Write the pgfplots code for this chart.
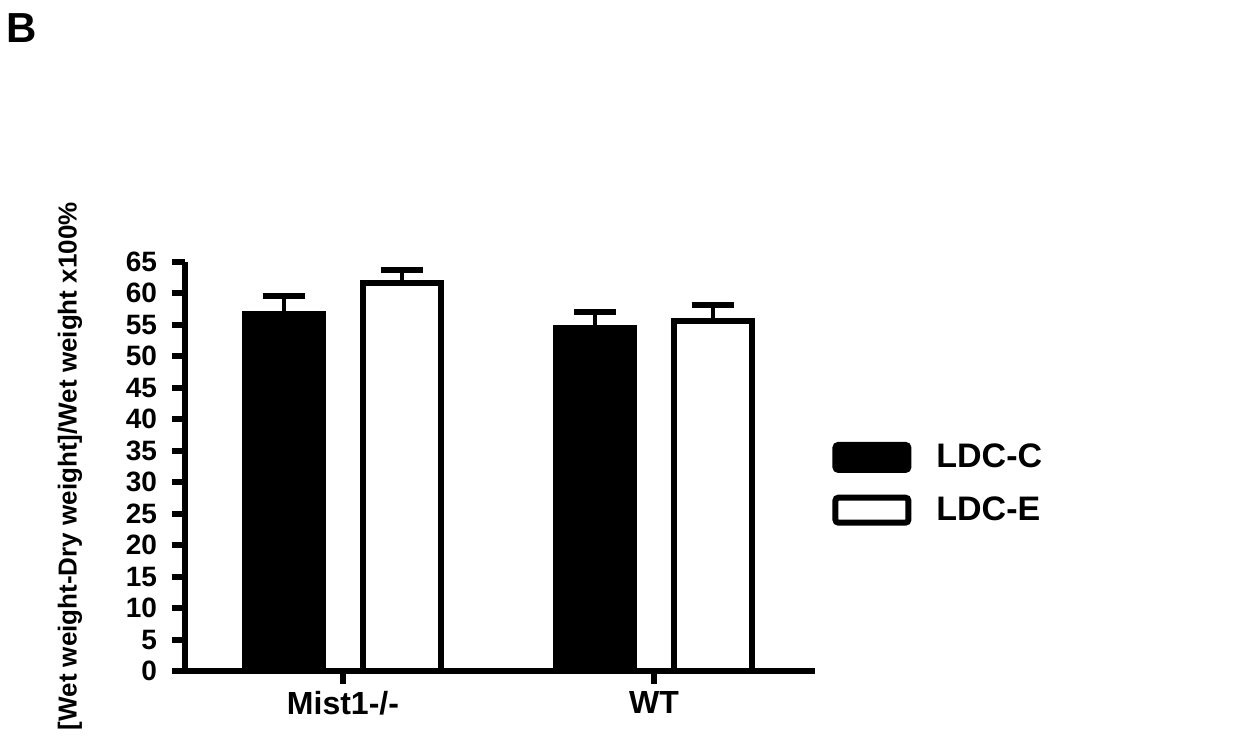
\documentclass[border=0pt]{standalone}
\usepackage{pgfplots}
\pgfplotsset{compat=1.18}
\usepackage{pgfplotstable}
\usepackage{fontspec}
\setmainfont{Liberation Sans}

\pgfplotstableread{
x y e
-0.189 56.67 2.85
0.811 54.44 2.62
}\ldcc
\pgfplotstableread{
x y e
0.189 61.59 2.14
1.189 55.56 2.54
}\ldce

\begin{document}
\begin{tikzpicture}[x=1pt,y=1pt]
\useasboundingbox (0,0) rectangle (621,367.5);
\node[font=\bfseries\fontsize{21}{25}\selectfont, anchor=center] at (11,353.5) {B};
\begin{axis}[
  at={(92.5pt,32pt)}, anchor=south west,
  scale only axis, width=315pt, height=204.75pt,
  xmin=-0.508, xmax=1.518, ymin=0, ymax=65,
  axis x line*=bottom, axis y line*=left,
  axis line style={line width=3pt, -},
  x axis line style={shorten <=-6.5pt},
  ytick={0,5,...,65}, xtick={0,1}, xticklabels={Mist1-/-, WT},
  minor tick num=0,
  tick align=outside, major tick length=6.5pt,
  tick style={line width=3pt, black},
  /pgf/number format/assume math mode=true,
  yticklabel style={font=\bfseries\fontsize{14}{16}\selectfont, xshift=-4pt},
  xticklabel style={font=\bfseries\fontsize{16}{19}\selectfont},
  ylabel={[Wet weight-Dry weight]/Wet weight x100\%},
  ylabel style={font=\bfseries\fontsize{13}{15}\selectfont, at={(axis description cs:-0.1825,0.5)}, anchor=center},
  legend style={draw=none, fill=none, at={(axis description cs:1.027,0.565)}, anchor=north west, inner sep=0pt, font=\bfseries\fontsize{17}{20}\selectfont, row sep=9pt, column sep=10.5pt, cells={anchor=west}},
  clip=false,
]
\addplot[ybar, bar width=0.251, bar shift=0, fill=black, draw=black, line width=3pt,
  legend image code/.code={\draw[fill=black, draw=black, line width=3pt, rounded corners=1.5pt] (0pt,-6.25pt) rectangle (36.5pt,6.25pt);},
  error bars/.cd, y dir=plus, y explicit,
  error bar style={line width=2pt, black},
  error mark options={rotate=90, line width=3pt, mark size=10.5pt, black}]
  table[x=x, y=y, y error=e] {\ldcc};
\addlegendentry{LDC-C}
\addplot[ybar, bar width=0.251, bar shift=0, fill=white, draw=black, line width=3pt,
  legend image code/.code={\draw[fill=white, draw=black, line width=3pt, rounded corners=1.5pt] (0pt,-6.25pt) rectangle (36.5pt,6.25pt);},
  error bars/.cd, y dir=plus, y explicit,
  error bar style={line width=2pt, black},
  error mark options={rotate=90, line width=3pt, mark size=10.5pt, black}]
  table[x=x, y=y, y error=e] {\ldce};
\addlegendentry{LDC-E}
\end{axis}
\end{tikzpicture}
\end{document}
